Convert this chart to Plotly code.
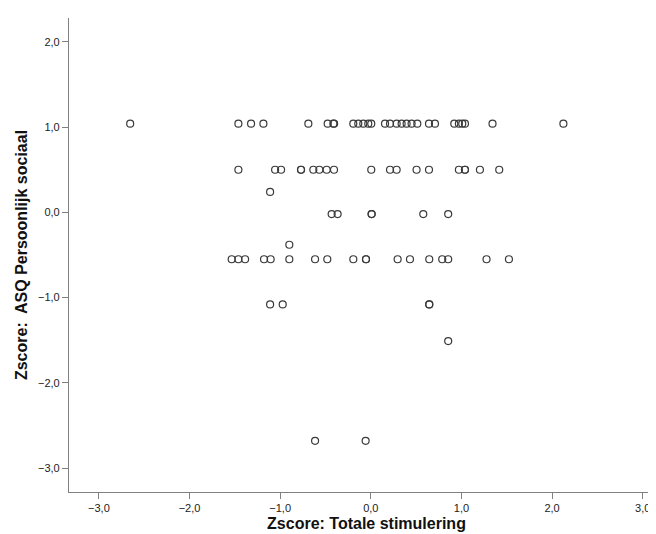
import plotly.graph_objects as go

# Zscore: Totale stimulering (x) vs Zscore: ASQ Persoonlijk sociaal (y)
x_vals = [
    # y = 1.04
    -2.655, -1.461, -1.321, -1.185, -0.689, -0.476, -0.413, -0.405, -0.193, -0.138,
    -0.083, -0.028, 0.005, 0.157, 0.212, 0.285, 0.340, 0.395, 0.450, 0.513,
    0.642, 0.708, 0.921, 0.972, 1.009, 1.039, 1.343, 2.125,
    # y = 0.50
    -1.461, -1.056, -0.990, -0.770, -0.770, -0.634, -0.568, -0.487, -0.406, 0.005,
    0.212, 0.285, 0.505, 0.642, 0.972, 1.039, 1.039, 1.204, 1.417,
    # y = 0.24
    -1.111,
    # y = -0.02
    -0.432, -0.366, 0.009, 0.009, 0.579, 0.854,
    # y = -0.38
    -0.899,
    # y = -0.55
    -1.535, -1.461, -1.387, -1.178, -1.105, -0.899, -0.615, -0.480, -0.193, -0.053,
    -0.053, 0.296, 0.432, 0.645, 0.788, 0.854, 1.277, 1.524,
    # y = -1.08
    -1.111, -0.972, 0.645, 0.645,
    # y = -1.51
    0.854,
    # y = -2.68
    -0.615, -0.057,
]
y_vals = (
    [1.04] * 28
    + [0.50] * 19
    + [0.24] * 1
    + [-0.02] * 6
    + [-0.38] * 1
    + [-0.55] * 18
    + [-1.08] * 4
    + [-1.51] * 1
    + [-2.68] * 2
)

x_ticks = [-3, -2, -1, 0, 1, 2, 3]
y_ticks = [-3, -2, -1, 0, 1, 2]
x_title = "Zscore: Totale stimulering"
y_title = "Zscore:  ASQ Persoonlijk sociaal"

fig = go.Figure()
fig.add_trace(go.Scatter(
    x=x_vals, y=y_vals, mode="markers",
    marker=dict(symbol="circle-open", size=7, color="#3a3a3a", line=dict(width=1.2)),
    showlegend=False,
))

font_fam = "Liberation Sans, Arial, sans-serif"
fig.update_layout(
    width=656, height=534,
    margin=dict(l=61, r=0, t=10, b=50),
    paper_bgcolor="white", plot_bgcolor="white",
    separators=",.",
    font=dict(family=font_fam, size=11, color="#222222"),
    xaxis=dict(
        range=[-3.33, 3.235], tickvals=x_ticks, tickformat=".1f",
        showgrid=False, zeroline=False, showline=True, linecolor="#808080", linewidth=1.2,
        ticks="outside", ticklen=6, tickcolor="#808080", tickwidth=1.2,
        tickfont=dict(size=11, color="#222222"),
        title=dict(text="<b>" + x_title + "</b>", font=dict(size=16, color="#111111"), standoff=4),
    ),
    yaxis=dict(
        range=[-3.28, 2.28], tickvals=y_ticks, tickformat=".1f",
        showgrid=False, zeroline=False, showline=True, linecolor="#808080", linewidth=1.2,
        ticks="outside", ticklen=6, tickcolor="#808080", tickwidth=1.2,
        tickfont=dict(size=11, color="#222222"),
        title=dict(text="<b>" + y_title + "</b>", font=dict(size=16, color="#111111"), standoff=6),
    ),
)

fig.write_html("out.html")
